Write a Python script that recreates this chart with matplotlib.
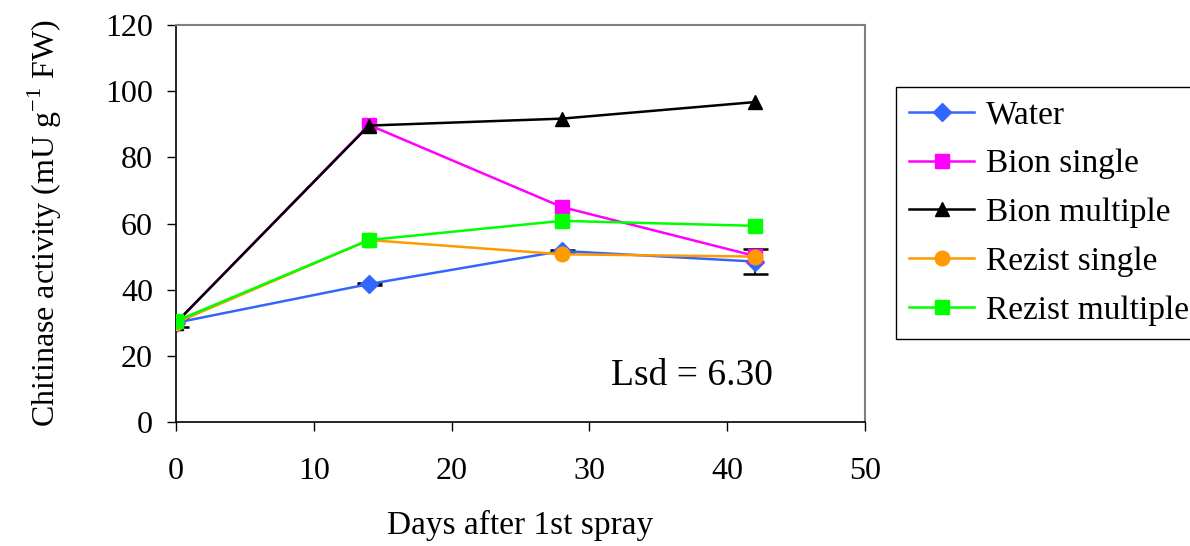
import numpy as np
import matplotlib
matplotlib.use('Agg')
import matplotlib.pyplot as plt
import matplotlib.ticker as ticker

plt.rcParams['font.family'] = ['Liberation Serif', 'DejaVu Serif']
plt.rcParams['mathtext.fontset'] = 'custom'
plt.rcParams['mathtext.rm'] = 'Liberation Serif'

days = [0, 14, 28, 42]

water = [30.0, 41.7, 51.7, 48.5]
water_err = [1.3, 0.4, 0.4, 3.9]
bion_single = [30.0, 89.8, 65.0, 50.2]
bion_multiple = [30.0, 89.6, 91.7, 96.7]
rezist_single = [30.0, 55.0, 50.7, 50.0]
rezist_multiple = [30.5, 55.0, 60.8, 59.3]

fig = plt.figure(figsize=(11.9, 5.46), dpi=100)
ax = fig.add_axes([0.1479, 0.2271, 0.579, 0.7271])

# error bars first so markers sit on top
ax.errorbar(days, water, yerr=water_err, fmt='none', ecolor='black',
            elinewidth=1.2, capsize=9, capthick=1.8, zorder=1)

ax.plot(days, water, color='#3366ff', marker='D', markersize=9.5, lw=1.8, label='Water', zorder=2)
ax.plot(days, bion_single, color='#ff00ff', marker='s', markersize=10, lw=1.8, label='Bion single', zorder=3)
ax.plot(days, bion_multiple, color='black', marker='^', markersize=10.5, lw=1.8, label='Bion multiple', zorder=4)
ax.plot(days, rezist_single, color='#ff9900', marker='o', markersize=10.5, lw=1.8, label='Rezist single', zorder=5)
ax.plot(days, rezist_multiple, color='#00ff00', marker='s', markersize=10, lw=1.8, label='Rezist multiple', zorder=6)

ax.set_xlim(0, 50)
ax.set_ylim(0, 120)
ax.xaxis.set_major_locator(ticker.MultipleLocator(10))
ax.yaxis.set_major_locator(ticker.MultipleLocator(20))
ax.tick_params(axis='both', direction='out', length=6.5, width=1, labelsize=23)
ax.tick_params(axis='y', pad=10)
ax.tick_params(axis='x', pad=19)

for side in ['top', 'right']:
    ax.spines[side].set_color('#808080')
    ax.spines[side].set_linewidth(1.5)
for side in ['left', 'bottom']:
    ax.spines[side].set_color('black')
    ax.spines[side].set_linewidth(1.2)

ax.set_xlabel('Days after 1st spray', fontsize=24, labelpad=17)
ax.set_ylabel('Chitinase activity (mU g$^{\\mathrm{-1}}$ FW)', fontsize=23, labelpad=30)

ax.text(31.6, 14, 'Lsd = 6.30', fontsize=27, va='center', ha='left')

leg = ax.legend(loc='upper left', bbox_to_anchor=(1.045, 0.845), fontsize=24,
                frameon=True, fancybox=False, edgecolor='black', framealpha=1,
                handlelength=1.95, handletextpad=0.35, labelspacing=0.55,
                borderpad=0.4, borderaxespad=0)
leg.get_frame().set_linewidth(1.0)

plt.savefig('out.png', dpi=100)
